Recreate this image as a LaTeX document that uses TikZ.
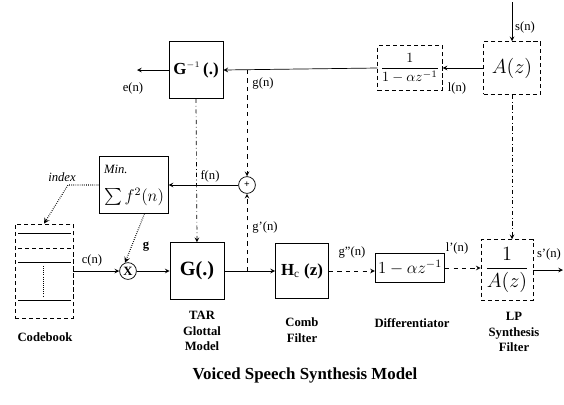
\documentclass[tikz,border=0pt]{standalone}
\usepackage{fontspec}
\setmainfont{Liberation Serif}
\usepackage{amsmath}
\usepackage{tikz}
\usetikzlibrary{arrows.meta}

\begin{document}
\begin{tikzpicture}[
  x=0.025cm, y=-0.025cm,
  font=\small,
  box/.style={
    draw,
    line width=0.5pt,
    align=center,
    inner sep=2pt
  },
  dashbox/.style={
    draw,
    densely dashed,
    line width=0.5pt,
    align=center,
    inner sep=2pt
  },
  junction/.style={
    draw,
    circle,
    line width=0.5pt,
    minimum size=0.42cm,
    inner sep=0pt
  },
  arrow/.style={
    draw,
    -stealth,
    line width=0.5pt
  },
  lbl/.style={
    font=\small,
    inner sep=1pt
  },
  caption/.style={
    font=\small\bfseries,
    align=center,
    inner sep=1pt
  }
]

\useasboundingbox (0,0) rectangle (564,404);

% Top row
\node[box, minimum width=1.35cm, minimum height=1.42cm] (ginv) at (196,70)
{\large\textbf{G}$^{\scriptscriptstyle -1}$\,\textbf{(.)}};

\node[dashbox, minimum width=1.33cm, minimum height=1.12cm] (deemph) at (410,68)
{\normalsize $\dfrac{1}{1-\alpha z^{-1}}$};

\node[dashbox, minimum width=1.42cm, minimum height=1.32cm] (az) at (512,68)
{\Large $A(z)$};

\coordinate (sin) at (512,2);
\coordinate (eout) at (137,70);

% Middle row
\node[junction] (plus) at (247,185) {\scriptsize\textbf{+}};

\node[box, minimum width=1.62cm, minimum height=1.42cm, inner sep=3pt, align=left] (minbox) at (134,185)
{\textit{Min.}\\[9pt] {\large $\sum f^{2}(n)$}};

\coordinate (ibend) at (68,185);

% Bottom row
\node[dashbox, minimum width=1.45cm, minimum height=2.35cm] (codebook) at (44,271) {};

\node[junction] (mult) at (128,271) {\textbf{X}};

\node[box, minimum width=1.35cm, minimum height=1.42cm] (gbox) at (197,271)
{\Large\textbf{G(.)}};

\node[box, minimum width=1.33cm, minimum height=1.38cm] (comb) at (302,271)
{\large\textbf{H}\textsubscript{c} \textbf{(z)}};

\node[box, minimum width=1.38cm, minimum height=0.72cm] (diff) at (410,268)
{\large $1-\alpha z^{-1}$};

\node[dashbox, minimum width=1.3cm, minimum height=1.52cm] (lp) at (507,270)
{\Large $\dfrac{1}{A(z)}$};

\coordinate (sout) at (563,270);

% Codebook entries
\draw[line width=0.5pt] (18,233) -- (71,233);
\draw[line width=0.5pt, densely dashed] (18,248) -- (71,248);
\draw[line width=0.5pt] (18,262) -- (71,262);
\draw[line width=0.5pt, densely dotted] (43,266) -- (43,296);
\draw[line width=0.5pt] (18,300) -- (71,300);

% Arrows top row
\draw[arrow] (sin) -- (az.north);
\draw[arrow] (az.west) -- (deemph.east);
\draw[arrow] (deemph.west) -- (ginv.east);
\draw[arrow] (ginv.west) -- (eout);
\draw[arrow, dashed] (plus.north |- ginv.east) -- (plus.north);

% Arrows down
\draw[arrow, dash dot] (ginv.south) -- (gbox.north);
\draw[arrow, dash dot] (az.south) -- (az.south |- lp.north);

% Error loop
\draw[arrow] (plus.west) -- (minbox.east);
\draw[arrow, dashed] (plus.south |- gbox.east) -- (plus.south);
\draw[arrow, densely dotted, thick] (minbox.west) -- (ibend) -- (codebook.north);
\draw[arrow, densely dotted, thick] (minbox.290) -- (mult.110);

% Arrows bottom row
\draw[arrow] (codebook.east |- mult.west) -- (mult.west);
\draw[arrow] (mult.east) -- (gbox.west);
\draw[arrow] (gbox.east) -- (comb.west);
\draw[arrow, dashed] (comb.east) -- (comb.east -| diff.west);
\draw[arrow, dashed] (diff.east) -- (diff.east -| lp.west);
\draw[arrow] (lp.east |- sout) -- (sout);

% Signal labels
\node[lbl] (slbl) at (525,27) {s(n)};
\node[lbl] (llbl) at (457,88) {l(n)};
\node[lbl] (glbl) at (263,83) {g(n)};
\node[lbl] (elbl) at (133,88) {e(n)};
\node[lbl] (flbl) at (210,176) {f(n)};
\node[lbl] (gplbl) at (265,227) {g'(n)};
\node[lbl, font=\small\itshape] (ilbl) at (62,177) {index};
\node[lbl, font=\small\bfseries] (gainlbl) at (146,247) {g};
\node[lbl] (clbl) at (92,260) {c(n)};
\node[lbl] (gpplbl) at (352,252) {g''(n)};
\node[lbl] (lplbl) at (457,248) {l'(n)};
\node[lbl] (splbl) at (549,254) {s'(n)};

% Block captions
\node[caption] (cbcap) at (45,337) {Codebook};
\node[caption] (gcap) at (202,331) {TAR\\Glottal\\Model};
\node[caption] (combcap) at (302,330) {Comb\\Filter};
\node[caption] (diffcap) at (412,323) {Differentiator};
\node[caption] (lpcap) at (514,332) {LP\\Synthesis\\Filter};

% Title
\node[font=\large\bfseries] (title) at (305,375) {Voiced Speech Synthesis Model};

\end{tikzpicture}
\end{document}
